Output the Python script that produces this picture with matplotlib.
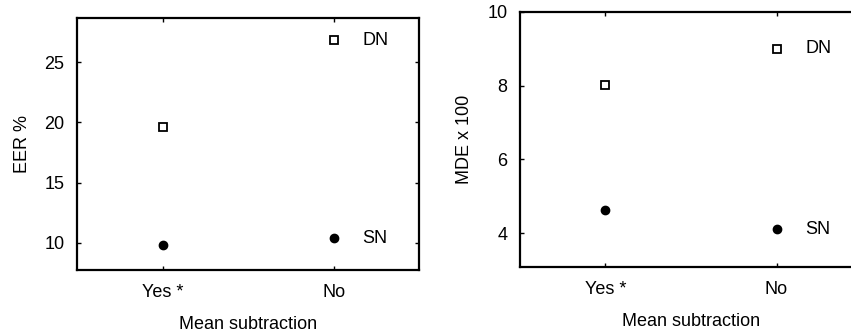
import matplotlib
matplotlib.use("Agg")
import matplotlib.pyplot as plt

plt.rcParams['font.family'] = ['Liberation Sans', 'DejaVu Sans']

categories = ["Yes *", "No"]
eer_dn = [19.6, 26.8]
eer_sn = [9.8, 10.4]
mde_dn = [8.03, 9.0]
mde_sn = [4.62, 4.1]

fig = plt.figure(figsize=(8.51, 3.34), dpi=100)
ax1 = fig.add_axes([0.0905, 0.1916, 0.402, 0.7545])
ax2 = fig.add_axes([0.611, 0.2006, 0.402, 0.7635])

def draw(ax, dn, sn, ylim, yticks, ylabel):
    x = list(range(len(categories)))
    ax.plot(x, dn, linestyle='none', marker='s', markersize=6,
            markerfacecolor='white', markeredgecolor='black', markeredgewidth=1.3)
    ax.plot(x, sn, linestyle='none', marker='o', markersize=6,
            markerfacecolor='black', markeredgecolor='black')
    ax.text(1.17, dn[-1], "DN", fontsize=13, va='center', ha='left')
    ax.text(1.17, sn[-1], "SN", fontsize=13, va='center', ha='left')
    ax.set_xlim(-0.5, 1.5)
    ax.set_ylim(*ylim)
    ax.set_xticks(x)
    ax.set_xticklabels(categories)
    ax.set_yticks(yticks)
    ax.tick_params(direction='in', length=3, width=1, top=True, right=True,
                   labelsize=13, pad=9)
    ax.tick_params(axis='x', pad=10)
    for s in ax.spines.values():
        s.set_linewidth(1.6)
    ax.set_xlabel("Mean subtraction", fontsize=13, labelpad=11)
    ax.set_ylabel(ylabel, fontsize=13, labelpad=10)

draw(ax1, eer_dn, eer_sn, (7.76, 28.65), [10, 15, 20, 25], "EER %")
draw(ax2, mde_dn, mde_sn, (3.08, 10.0), [4, 6, 8, 10], "MDE x 100")

fig.savefig("out.png", dpi=100)
